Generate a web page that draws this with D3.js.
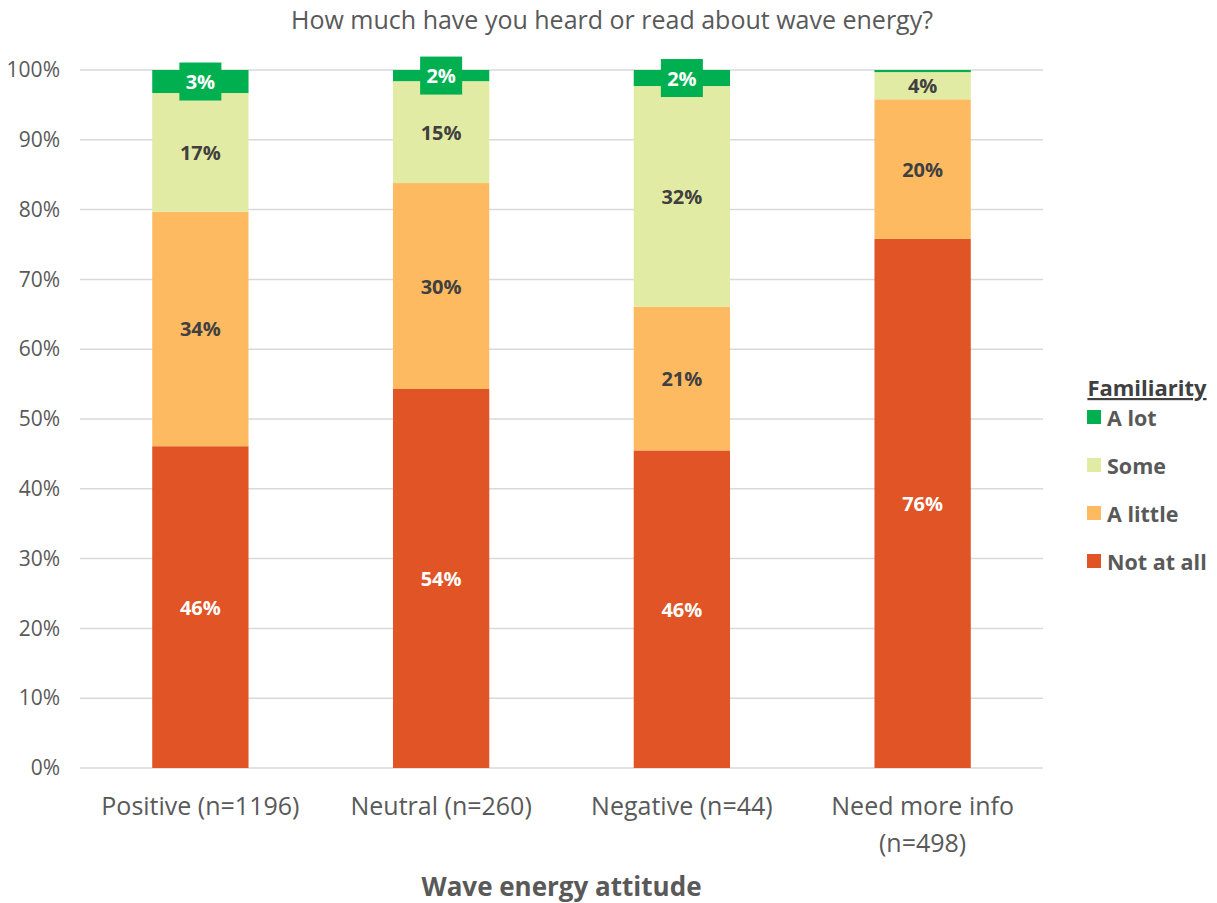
<!DOCTYPE html>
<html>
<head>
<meta charset="utf-8">
<script src="https://cdn.jsdelivr.net/npm/d3@7"></script>
<style>
  body { margin: 0; background: #fff; }
  svg { display: block; font-family: "Open Sans", sans-serif; }
</style>
</head>
<body>
<svg id="chart" width="1217" height="903"></svg>
<script>
// Attitude groups on the x axis (second line of a label after "\n")
const categories = ["Positive (n=1196)", "Neutral (n=260)", "Negative (n=44)", "Need more info\n(n=498)"];

// Familiarity levels, stacked bottom to top
const levels = ["Not at all", "A little", "Some", "A lot"];

// Share of respondents (%) per familiarity level, one value per category
const notAtAll = [46.1, 54.3, 45.5, 75.8];
const aLittle  = [33.6, 29.5, 20.6, 20.0];
const some     = [17.0, 14.6, 31.6, 3.9];
const aLot     = [3.3, 1.6, 2.3, 0.3];

const yTicks = [0, 10, 20, 30, 40, 50, 60, 70, 80, 90, 100];

const colors = {
  "Not at all": "#E05426",
  "A little": "#FDBA61",
  "Some": "#E2EBA3",
  "A lot": "#00B050"
};
const labelColors = {
  "Not at all": "#ffffff",
  "A little": "#404040",
  "Some": "#404040",
  "A lot": "#ffffff"
};

const seriesValues = { "Not at all": notAtAll, "A little": aLittle, "Some": some, "A lot": aLot };
const rows = categories.map((c, i) => {
  const r = { category: c };
  levels.forEach(l => r[l] = seriesValues[l][i]);
  return r;
});

const svg = d3.select("#chart");
const margin = { left: 80, right: 174, top: 70, bottom: 135 };
const width = 1217, height = 903;

const x = d3.scaleBand()
  .domain(categories)
  .range([margin.left, width - margin.right])
  .paddingInner(0.6)
  .paddingOuter(0.3);

const y = d3.scaleLinear()
  .domain([0, 100])
  .range([height - margin.bottom, margin.top]);

// Title
svg.append("text")
  .attr("x", 612).attr("y", 29)
  .attr("text-anchor", "middle")
  .attr("font-size", 25)
  .attr("fill", "#595959")
  .text("How much have you heard or read about wave energy?");

// Horizontal gridlines
svg.append("g")
  .selectAll("line")
  .data(yTicks)
  .join("line")
  .attr("x1", margin.left).attr("x2", width - margin.right)
  .attr("y1", d => y(d)).attr("y2", d => y(d))
  .attr("stroke", "#D9D9D9")
  .attr("stroke-width", 1.5);

// Y axis tick labels
const yAxis = d3.axisLeft(y).tickValues(yTicks).tickFormat(d => d + "%").tickSize(0).tickPadding(20);
const gy = svg.append("g").attr("transform", `translate(${margin.left},0)`).call(yAxis);
gy.select(".domain").remove();
gy.selectAll("text")
  .attr("font-family", "Open Sans, sans-serif")
  .attr("font-size", 21)
  .attr("fill", "#595959");

// Stacked bars
const stack = d3.stack().keys(levels);
const stacked = stack(rows);

const layers = svg.append("g")
  .selectAll("g")
  .data(stacked)
  .join("g")
  .attr("fill", d => colors[d.key]);

layers.selectAll("rect")
  .data(d => d.map(s => ({ key: d.key, s })))
  .join("rect")
  .attr("x", d => x(d.s.data.category))
  .attr("width", x.bandwidth())
  .attr("y", d => y(d.s[1]))
  .attr("height", d => y(d.s[0]) - y(d.s[1]));

// Segment value labels
const fmt = v => Math.round(v) + "%";
const labelG = svg.append("g");
stacked.forEach(layer => {
  layer.forEach(s => {
    const v = s[1] - s[0];
    if (v < 1) return;
    const cx = x(s.data.category) + x.bandwidth() / 2;
    const cy = (y(s[0]) + y(s[1])) / 2;
    const g = labelG.append("g");
    g.append("text")
      .attr("x", cx).attr("y", cy)
      .attr("text-anchor", "middle")
      .attr("dominant-baseline", "central")
      .attr("font-size", 20)
      .attr("font-weight", 700)
      .attr("fill", labelColors[layer.key])
      .text(fmt(v));
    if (layer.key === "A lot") {
      g.insert("rect", "text")
        .attr("x", cx - 21).attr("y", cy - 19)
        .attr("width", 42).attr("height", 38)
        .attr("fill", colors["A lot"]);
    }
  });
});

// Category labels
const catG = svg.append("g");
categories.forEach(c => {
  const lines = c.split("\n");
  const t = catG.append("text")
    .attr("text-anchor", "middle")
    .attr("font-size", 25)
    .attr("fill", "#595959");
  lines.forEach((ln, i) => {
    t.append("tspan")
      .attr("x", x(c) + x.bandwidth() / 2)
      .attr("y", 815 + i * 37)
      .text(ln);
  });
});

// X axis title
svg.append("text")
  .attr("x", (margin.left + width - margin.right) / 2)
  .attr("y", 896)
  .attr("text-anchor", "middle")
  .attr("font-size", 26)
  .attr("font-weight", 700)
  .attr("fill", "#595959")
  .text("Wave energy attitude");

// Legend
const legend = svg.append("g").attr("transform", "translate(1087,0)");
legend.append("text")
  .attr("x", 60).attr("y", 396)
  .attr("text-anchor", "middle")
  .attr("font-size", 22)
  .attr("font-weight", 700)
  .attr("fill", "#404040")
  .attr("text-decoration", "underline")
  .text("Familiarity");
levels.slice().reverse().forEach((l, i) => {
  const yy = 417 + i * 48;
  legend.append("rect")
    .attr("x", 0).attr("y", yy - 7)
    .attr("width", 14).attr("height", 14)
    .attr("fill", colors[l]);
  legend.append("text")
    .attr("x", 20).attr("y", yy)
    .attr("dominant-baseline", "central")
    .attr("font-size", 21.5)
    .attr("font-weight", 700)
    .attr("fill", "#595959")
    .text(l);
});
</script>
</body>
</html>
